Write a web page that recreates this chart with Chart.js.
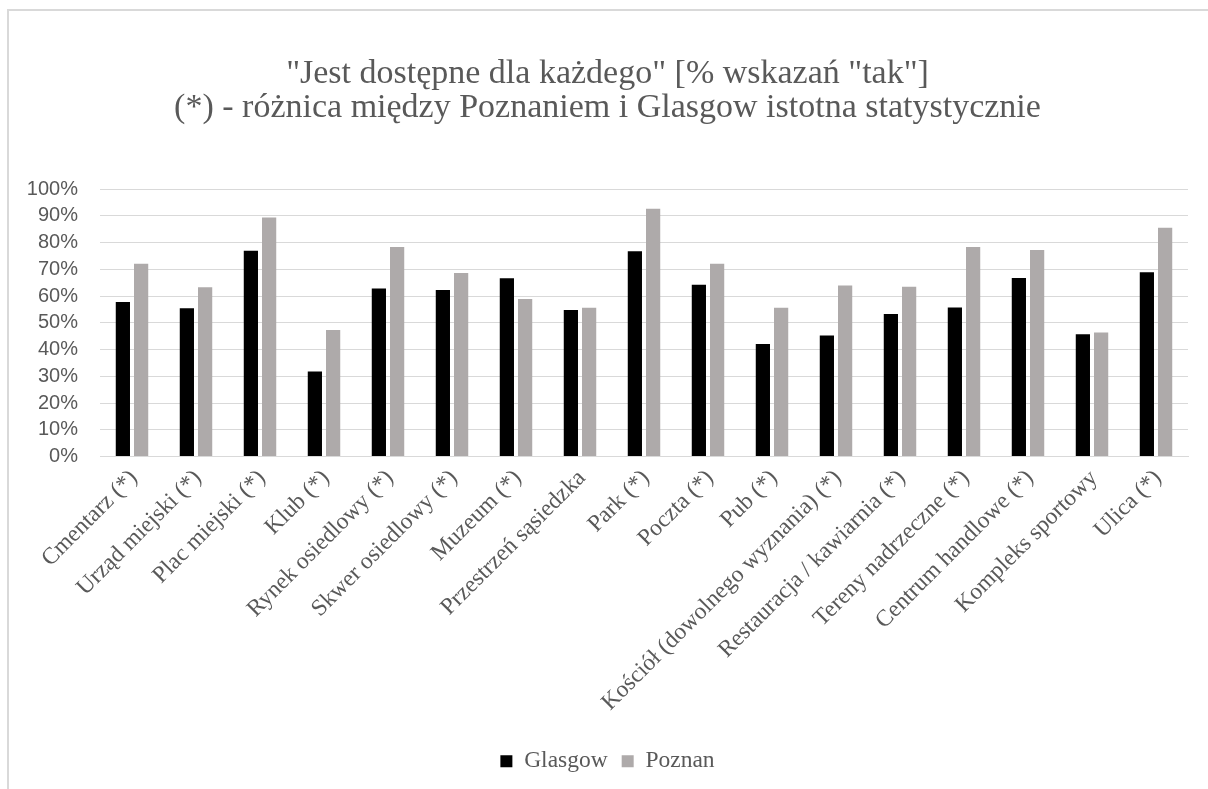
<!DOCTYPE html>
<html>
<head>
<meta charset="utf-8">
<script src="https://cdn.jsdelivr.net/npm/chart.js@4"></script>
<style>
  html, body { margin: 0; padding: 0; background: #fff; }
  #wrap { position: relative; width: 1208px; height: 789px; overflow: hidden; }
  #frame { position: absolute; left: 7px; top: 9px; width: 1300px; height: 900px;
           border-left: 2px solid #d9d9d9; border-top: 2px solid #d9d9d9; }
  canvas { position: absolute; left: 0; top: 0; }
</style>
</head>
<body>
<div id="wrap">
  <div id="frame"></div>
  <canvas id="mycanvas" width="1208" height="789"></canvas>
</div>
<script>
// categories
var places = [
  'Cmentarz (*)', 'Urząd miejski (*)', 'Plac miejski (*)', 'Klub (*)',
  'Rynek osiedlowy (*)', 'Skwer osiedlowy (*)', 'Muzeum (*)', 'Przestrzeń sąsiedzka',
  'Park (*)', 'Poczta (*)', 'Pub (*)', 'Kościół (dowolnego wyznania) (*)',
  'Restauracja / kawiarnia (*)', 'Tereny nadrzeczne (*)', 'Centrum handlowe (*)',
  'Kompleks sportowy', 'Ulica (*)'
];
// % of "tak" answers
var glasgow = [57.8, 55.4, 76.9, 31.8, 62.8, 62.2, 66.6, 54.8, 76.7, 64.2, 42.1, 45.2, 53.3, 55.7, 66.7, 45.7, 68.9];
var poznan  = [72.1, 63.3, 89.3, 47.3, 78.3, 68.6, 58.9, 55.6, 92.6, 72.1, 55.6, 63.9, 63.5, 78.3, 77.2, 46.4, 85.5];
var titleLines = ['"Jest dostępne dla każdego" [% wskazań "tak"]',
                  '(*) - różnica między Poznaniem i Glasgow istotna statystycznie'];

var serif = 'Liberation Serif';
var txt = '#595959';

var ctx = document.getElementById('mycanvas');
var chart = new Chart(ctx, {
  type: 'bar',
  data: {
    labels: places,
    datasets: [
      { label: 'Glasgow', data: glasgow, backgroundColor: '#000000',
        borderWidth: 0, categoryPercentage: 0.57, barPercentage: 0.78 },
      { label: 'Poznan', data: poznan, backgroundColor: '#aeaaaa',
        borderWidth: 0, categoryPercentage: 0.57, barPercentage: 0.78 }
    ]
  },
  options: {
    responsive: false,
    animation: false,
    layout: { padding: { left: 27, right: 20, top: 0, bottom: 6 } },
    plugins: {
      title: {
        display: true,
        text: titleLines,
        color: txt,
        font: { family: serif, size: 34, weight: 'normal', lineHeight: 1.0 },
        padding: { top: 57, bottom: 64 }
      },
      legend: {
        position: 'bottom',
        labels: {
          color: txt,
          font: { family: serif, size: 23.5 },
          boxWidth: 12, boxHeight: 12, padding: 14
        }
      },
      tooltip: { enabled: false }
    },
    scales: {
      x: {
        grid: { display: false, drawTicks: false },
        border: { color: '#d9d9d9', width: 1 },
        ticks: {
          color: txt,
          font: { family: serif, size: 23.5 },
          minRotation: 45, maxRotation: 45,
          autoSkip: false, padding: 8, labelOffset: 2
        },
        afterFit: function(scale) {
          scale.paddingLeft = 0;
          scale.paddingRight = 0;
          scale.height = 279;
        }
      },
      y: {
        min: 0, max: 100,
        border: { display: false },
        grid: { color: '#d9d9d9', lineWidth: 1, drawTicks: false },
        ticks: {
          stepSize: 10,
          autoSkip: false,
          color: txt,
          font: { family: 'Liberation Sans', size: 20 },
          padding: 22,
          callback: function(v) { return v + '%'; }
        },
        afterFit: function(scale) { scale.width = 73; }
      }
    }
  }
});
</script>
</body>
</html>
